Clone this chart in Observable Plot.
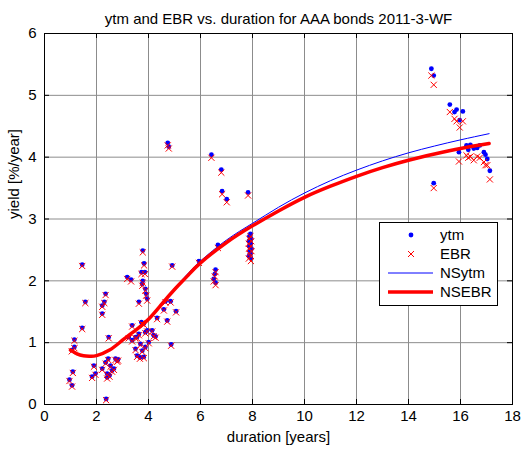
<!DOCTYPE html>
<html>
<head>
<meta charset="utf-8">
<script src="https://cdn.jsdelivr.net/npm/d3@7"></script>
<script src="https://cdn.jsdelivr.net/npm/@observablehq/plot@0.6"></script>
<style>
  body { margin: 0; background: #fff; }
  #wrap { position: relative; width: 523px; height: 450px; font-family: "Liberation Sans", Arial, sans-serif; }
  #legend { position: absolute; left: 379px; top: 222px; width: 117px; height: 82px; border: 1px solid #000; background: #fff; }
</style>
</head>
<body>
<div id="wrap"><div id="chart"></div><div id="legend"></div></div>
<script>
const title = "ytm and EBR vs. duration for AAA bonds 2011-3-WF";
const xLabel = "duration [years]";
const yLabel = "yield [%/year]";
const xTicks = [0, 2, 4, 6, 8, 10, 12, 14, 16, 18];
const yTicks = [0, 1, 2, 3, 4, 5, 6];
const seriesNames = ["ytm", "EBR", "NSytm", "NSEBR"];

// bond durations, yields to maturity and EBR
const dur = [0.96,1.06,1.09,1.05,1.15,1.15,1.45,1.45,1.57,1.83,1.96,1.90,2.22,2.22,2.30,2.35,2.37,2.47,2.35,2.45,2.54,2.60,2.41,2.41,2.80,2.67,2.22,2.50,2.73,2.83,
  3.18,3.33,3.63,3.78,3.83,3.73,3.86,3.78,3.76,3.88,3.91,3.95,
  3.37,3.37,3.50,3.69,3.56,3.76,3.82,3.88,3.95,4.14,4.27,4.01,3.73,3.63,3.24,3.82,3.88,4.20,3.56,3.67,3.50,
  4.33,4.59,4.72,4.65,4.85,5.06,4.87,4.91,4.74,4.78,
  5.94,6.42,6.80,6.83,7.01,7.83,6.67,6.58,6.55,6.51,6.58,
  7.92,7.88,7.95,7.86,7.93,7.87,7.96,7.89,7.92,7.86,7.94,
  14.88,14.97,14.97,15.59,15.77,15.85,15.97,16.09,15.94,16.23,16.38,16.30,16.51,16.64,16.74,16.90,16.96,17.03,17.13];
const ytm = [0.40,0.31,0.53,0.88,1.05,0.93,1.24,2.26,1.66,0.45,0.50,0.63,1.47,1.60,1.66,1.79,0.09,1.09,0.68,0.74,0.63,0.55,0.50,0.44,0.71,0.58,0.58,0.47,0.74,0.73,
  2.06,2.02,1.66,2.49,2.28,2.14,2.14,2.00,1.95,1.87,1.79,1.71,
  1.28,1.04,1.09,0.98,0.79,0.87,0.77,0.93,1.20,1.20,1.10,1.01,1.33,1.14,1.09,1.31,1.17,1.12,1.09,0.76,0.90,
  1.40,1.54,1.36,1.67,1.67,1.51,0.97,2.25,4.23,4.17,
  2.32,4.04,3.80,3.45,3.32,3.43,2.58,2.18,2.11,2.03,1.97,
  2.76,2.72,2.68,2.64,2.60,2.56,2.52,2.48,2.44,2.40,2.36,
  5.43,5.32,3.58,4.85,4.73,4.77,4.60,4.74,4.08,4.19,4.20,4.12,4.14,4.15,4.19,4.08,4.04,3.97,3.78];
const ebr = [0.38,0.29,0.51,0.86,1.03,0.91,1.22,2.24,1.64,0.43,0.48,0.61,1.45,1.58,1.64,1.77,0.07,1.07,0.66,0.72,0.61,0.53,0.48,0.42,0.69,0.56,0.56,0.45,0.72,0.71,
  2.03,1.99,1.63,2.46,2.25,2.11,2.11,1.97,1.92,1.84,1.76,1.68,
  1.26,1.02,1.07,0.96,0.77,0.85,0.75,0.91,1.18,1.18,1.08,0.99,1.31,1.12,1.07,1.29,1.15,1.10,1.07,0.74,0.88,
  1.38,1.52,1.34,1.65,1.65,1.49,0.95,2.23,4.19,4.14,
  2.29,3.99,3.75,3.40,3.27,3.38,2.53,2.14,2.07,1.99,1.93,
  2.72,2.68,2.64,2.60,2.56,2.52,2.48,2.44,2.40,2.36,2.32,
  5.32,5.17,3.50,4.73,4.62,4.58,4.48,4.58,3.93,4.03,4.01,3.99,3.95,4.01,3.99,3.92,3.87,3.87,3.64];

// fitted Nelson-Siegel curves
const nsDur  = [1.0,1.25,1.5,1.75,2.0,2.5,3.0,3.5,4.0,4.5,5.0,5.5,6.0,7.0,8.0,9.0,10.0,11.0,12.0,13.0,14.0,15.0,16.0,17.1];
const nsYtm  = [0.88,0.82,0.79,0.78,0.79,0.88,1.04,1.20,1.39,1.63,1.88,2.11,2.32,2.66,2.93,3.19,3.42,3.62,3.79,3.94,4.07,4.18,4.28,4.38];
const nsEbr  = [0.88,0.82,0.79,0.78,0.79,0.88,1.04,1.20,1.38,1.62,1.86,2.08,2.29,2.62,2.89,3.13,3.35,3.53,3.69,3.83,3.95,4.05,4.14,4.22];

const bonds = dur.map((d, i) => ({d, ytm: ytm[i], ebr: ebr[i]}));
const curveY = nsDur.map((d, i) => ({d, y: nsYtm[i]}));
const curveE = nsDur.map((d, i) => ({d, y: nsEbr[i]}));

const font = "Liberation Sans, Arial, sans-serif";
const chart = Plot.plot({
  width: 523, height: 450,
  marginLeft: 44, marginRight: 11, marginTop: 33, marginBottom: 46,
  style: {fontFamily: font, fontSize: "15px", background: "#fff", color: "#000", overflow: "visible"},
  x: {domain: [0, 18], ticks: xTicks, label: null},
  y: {domain: [0, 6], ticks: yTicks, label: null},
  marks: [
    Plot.gridX(xTicks, {stroke: "#8c8c8c", strokeOpacity: 1, strokeWidth: 1}),
    Plot.gridY(yTicks, {stroke: "#8c8c8c", strokeOpacity: 1, strokeWidth: 1}),
    Plot.axisX(xTicks, {tickSize: 0, tickPadding: 6, fontSize: 15, label: null, tickFormat: d => String(d)}),
    Plot.axisY(yTicks, {tickSize: 0, tickPadding: 8, fontSize: 15, label: null, tickFormat: d => String(d)}),
    Plot.ruleX(xTicks, {x: d => d, insetTop: 366, stroke: "#000"}),
    Plot.ruleX(xTicks, {x: d => d, insetBottom: 366, stroke: "#000"}),
    Plot.ruleY(yTicks, {y: d => d, insetRight: 463, stroke: "#000"}),
    Plot.ruleY(yTicks, {y: d => d, insetLeft: 463, stroke: "#000"}),
    Plot.dot(bonds, {x: "d", y: "ytm", fill: "#0000ff", r: 2.4, stroke: "none"}),
    Plot.dot(bonds, {x: "d", y: "ebr", symbol: "times", stroke: "#ff0000", r: 2.9, strokeWidth: 1}),
    Plot.line(curveY, {x: "d", y: "y", stroke: "#0000ff", strokeWidth: 1, curve: "natural"}),
    Plot.line(curveE, {x: "d", y: "y", stroke: "#ff0000", strokeWidth: 3.5, curve: "natural"}),
    Plot.frame({stroke: "#000", strokeWidth: 1}),
    Plot.text([title], {frameAnchor: "top", dy: -14, lineAnchor: "middle", fontSize: 15}),
    Plot.text([xLabel], {frameAnchor: "bottom", dy: 33, lineAnchor: "middle", fontSize: 15}),
    Plot.text([yLabel], {frameAnchor: "left", dx: -30, rotate: -90, lineAnchor: "middle", fontSize: 15})
  ]
});
document.getElementById("chart").appendChild(chart);

// legend inside the axes (MATLAB style)
const ns = "http://www.w3.org/2000/svg";
const lg = document.createElementNS(ns, "svg");
lg.setAttribute("width", 117); lg.setAttribute("height", 82);
lg.style.fontFamily = font; lg.style.fontSize = "15px";
const rows = [12, 31, 50, 69];
function el(tag, attrs) { const e = document.createElementNS(ns, tag); for (const k in attrs) e.setAttribute(k, attrs[k]); lg.appendChild(e); return e; }
el("circle", {cx: 31, cy: rows[0], r: 2.4, fill: "#0000ff"});
el("path", {d: `M${28},${rows[1]-3}L${34},${rows[1]+3}M${28},${rows[1]+3}L${34},${rows[1]-3}`, stroke: "#ff0000", "stroke-width": 1});
el("line", {x1: 8, x2: 53, y1: rows[2], y2: rows[2], stroke: "#0000ff", "stroke-width": 1});
el("line", {x1: 8, x2: 53, y1: rows[3], y2: rows[3], stroke: "#ff0000", "stroke-width": 3.5});
seriesNames.forEach((n, i) => { const t = el("text", {x: 60, y: rows[i], dy: "0.35em", fill: "#000"}); t.textContent = n; });
document.getElementById("legend").appendChild(lg);
</script>
</body>
</html>
